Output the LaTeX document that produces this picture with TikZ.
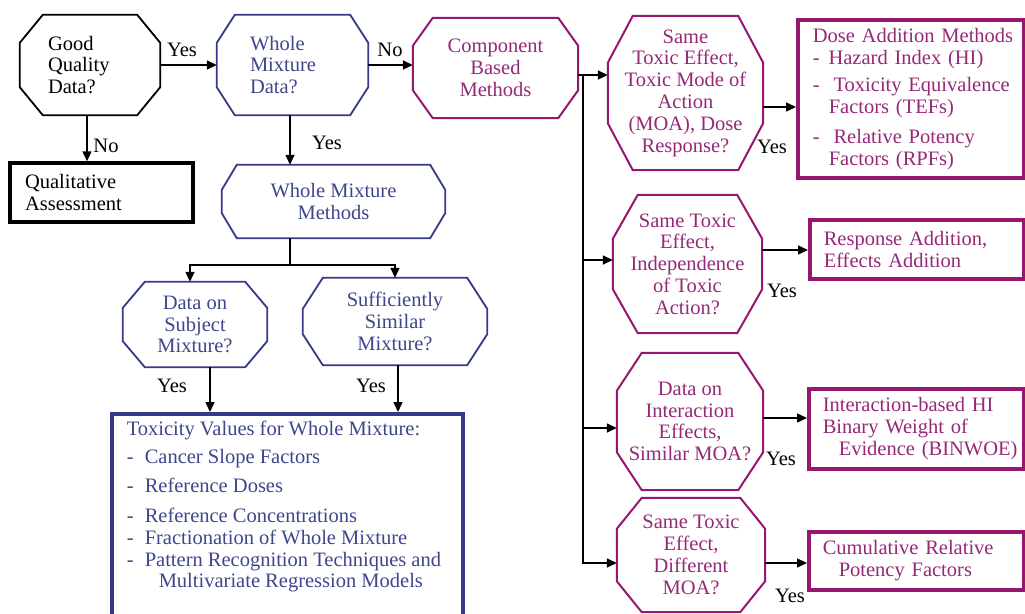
\documentclass[tikz,border=0pt]{standalone}
\usepackage{fontspec}
\setmainfont{Liberation Serif}
\usetikzlibrary{arrows.meta,calc}
\definecolor{navy}{RGB}{52,58,135}
\definecolor{navytext}{RGB}{62,70,140}
\definecolor{mag}{RGB}{150,22,112}
\definecolor{magtext}{RGB}{150,40,120}
\newcommand\octframe[4]{%
  \draw[#4] ($(#1.north west)+(#2pt,0pt)$) -- ($(#1.north east)+(-#2pt,0pt)$)
    -- ($(#1.north east)+(0pt,-#3pt)$) -- ($(#1.south east)+(0pt,#3pt)$)
    -- ($(#1.south east)+(-#2pt,0pt)$) -- ($(#1.south west)+(#2pt,0pt)$)
    -- ($(#1.south west)+(0pt,#3pt)$) -- ($(#1.north west)+(0pt,-#3pt)$) -- cycle;}
\begin{document}
\begin{tikzpicture}[x=1pt,y=-1pt,
  every node/.style={font=\fontsize{20.5}{21.8}\selectfont, inner sep=0pt},
  octK/.style={draw=black, line width=1.8pt, line join=miter},
  octB/.style={draw=navy, line width=1.8pt, line join=miter},
  octM/.style={draw=mag, line width=2pt, line join=miter},
  btext/.style={text=navytext},
  mtext/.style={text=magtext},
  boxM/.style={draw=mag, line width=3.5pt, text=magtext, anchor=north west, align=left},
  arr/.style={-{Triangle[length=10pt,width=9pt]}, line width=1.5pt, black},
  ln/.style={line width=1.5pt, black},
  lbl/.style={text=black}]
\useasboundingbox (0,0) rectangle (1025,613);

% ---------- left part ----------
\node[minimum width=140pt, minimum height=100pt, text width=84pt, align=left] (gq) at (90,65) {Good\\Quality\\Data?};
\octframe{gq}{23}{28}{octK}

\node[btext, minimum width=151pt, minimum height=100pt, text width=85pt, align=left] (wmd) at (292.5,65) {Whole\\Mixture\\Data?};
\octframe{wmd}{18}{28}{octB}

\node[draw=black, line width=3.5pt, minimum width=183pt, minimum height=59pt, text width=153pt, align=left] (qa) at (101.5,192.5) {Qualitative\\Assessment};

\node[mtext, minimum width=165pt, minimum height=100pt, align=center] (cbm) at (495.5,68) {Component\\Based\\Methods};
\octframe{cbm}{20}{28}{octM}

\node[btext, minimum width=223pt, minimum height=73pt, align=center] (wmm) at (333.5,201.5) {Whole Mixture\\Methods};
\octframe{wmm}{15}{25}{octB}

\node[btext, minimum width=144pt, minimum height=85pt, align=center] (dsm) at (195,324.5) {Data on\\Subject\\Mixture?};
\octframe{dsm}{22}{26}{octB}

\node[btext, minimum width=184pt, minimum height=87pt, align=center] (ssm) at (395,321.5) {Sufficiently\\Similar\\Mixture?};
\octframe{ssm}{20}{31}{octB}

\node[draw=navy, line width=3.5pt, btext, anchor=north west, inner xsep=15pt, inner ysep=7pt] (tox) at (110,412)
{\begin{minipage}[t][225pt][t]{321pt}\raggedright
Toxicity Values for Whole Mixture:\\[7pt]
\makebox[18pt][l]{-}Cancer Slope Factors\\[7pt]
\makebox[18pt][l]{-}Reference Doses\\[8pt]
\makebox[18pt][l]{-}Reference Concentrations\\
\makebox[18pt][l]{-}Fractionation of Whole Mixture\\
\mbox{\makebox[18pt][l]{-}Pattern Recognition Techniques and}\\
\hspace*{32pt}Multivariate Regression Models
\end{minipage}};

% ---------- right part ----------
\node[mtext, minimum width=155pt, minimum height=154pt, align=center] (st1) at (685.5,93) {Same\\Toxic Effect,\\Toxic Mode of\\Action\\(MOA), Dose\\Response?};
\octframe{st1}{25}{47}{octM}

\node[mtext, minimum width=149pt, minimum height=138pt, align=center] (st2) at (687.5,264) {Same Toxic\\Effect,\\Independence\\of Toxic\\Action?};
\octframe{st2}{25}{44}{octM}

\node[mtext, minimum width=146pt, minimum height=137pt, align=center] (st3) at (690,421.5) {Data on\\Interaction\\Effects,\\Similar MOA?};
\octframe{st3}{25}{38}{octM}

\node[mtext, minimum width=148pt, minimum height=114pt, align=center] (st4) at (691,555) {Same Toxic\\Effect,\\Different\\MOA?};
\octframe{st4}{25}{31}{octM}

\node[boxM, minimum width=226pt, minimum height=158pt, text width=196pt] (da) at (796,18)
{\mbox{Dose Addition Methods}\\[1pt]
\mbox{-\hspace{9pt}Hazard Index (HI)}\\[5pt]
\mbox{-\hspace{14pt}Toxicity Equivalence}\\
\mbox{\hspace*{16pt}Factors (TEFs)}\\[8pt]
\mbox{-\hspace{14pt}Relative Potency}\\
\mbox{\hspace*{16pt}Factors (RPFs)}};

\node[boxM, minimum width=214pt, minimum height=59pt, text width=186pt] (ra) at (808,218)
{\mbox{Response Addition,}\\\mbox{Effects Addition}};

\node[boxM, minimum width=215pt, minimum height=80pt, text width=187pt] (ib) at (807,387)
{\mbox{Interaction-based HI}\\\mbox{Binary Weight of}\\\mbox{\hspace*{16pt}Evidence (BINWOE)}};

\node[boxM, minimum width=215pt, minimum height=58pt, text width=187pt] (cr) at (807,530)
{\mbox{Cumulative Relative}\\\mbox{\hspace*{16pt}Potency Factors}};

% ---------- connectors ----------
\draw[arr] (gq.east) -- (gq.east -| wmd.west);
\draw[arr] ([xshift=-3pt]gq.south) -- ([xshift=-3pt]gq.south |- qa.north);
\draw[arr] (wmd.east) -- (wmd.east -| cbm.west);
\draw[arr] ([xshift=-2.5pt]wmd.south) -- ([xshift=-2.5pt]wmd.south |- wmm.north);

\coordinate (jn) at (290,265);
\draw[ln] ([xshift=-43.5pt]wmm.south) -- (jn);
\draw[arr] (jn) -| ([xshift=-5pt]dsm.north);
\draw[arr] (jn) -| (ssm.north);
\draw[arr] ([xshift=15pt]dsm.south) -- ([xshift=15pt]dsm.south |- tox.north);
\draw[arr] ([xshift=3pt]ssm.south) -- ([xshift=3pt]ssm.south |- tox.north);

\coordinate (tr) at (583,75);
\draw[arr] ([yshift=-7pt]cbm.east) -- ([yshift=-7pt]cbm.east -| st1.west);
\draw[arr] (tr) |- ([yshift=4pt]st2.west);
\draw[arr] (tr) |- ([yshift=-6.5pt]st3.west);
\draw[arr] (tr) |- ([yshift=-8pt]st4.west);

\draw[arr] ([yshift=-14pt]st1.east) -- ([yshift=-14pt]st1.east -| da.west);
\draw[arr] ([yshift=14pt]st2.east) -- ([yshift=14pt]st2.east -| ra.west);
\draw[arr] ([yshift=3.5pt]st3.east) -- ([yshift=3.5pt]st3.east -| ib.west);
\draw[arr] ([yshift=-8pt]st4.east) -- ([yshift=-8pt]st4.east -| cr.west);

% ---------- labels ----------
\node[lbl] (l1) at (182,50) {Yes};
\node[lbl] (l2) at (106,146) {No};
\node[lbl] (l3) at (390,50) {No};
\node[lbl] (l4) at (327,143) {Yes};
\node[lbl] (l5) at (172,386) {Yes};
\node[lbl] (l6) at (371,386) {Yes};
\node[lbl] (l7) at (772,147) {Yes};
\node[lbl] (l8) at (782,291) {Yes};
\node[lbl] (l9) at (781,459) {Yes};
\node[lbl] (l10) at (790,596) {Yes};
\end{tikzpicture}
\end{document}
